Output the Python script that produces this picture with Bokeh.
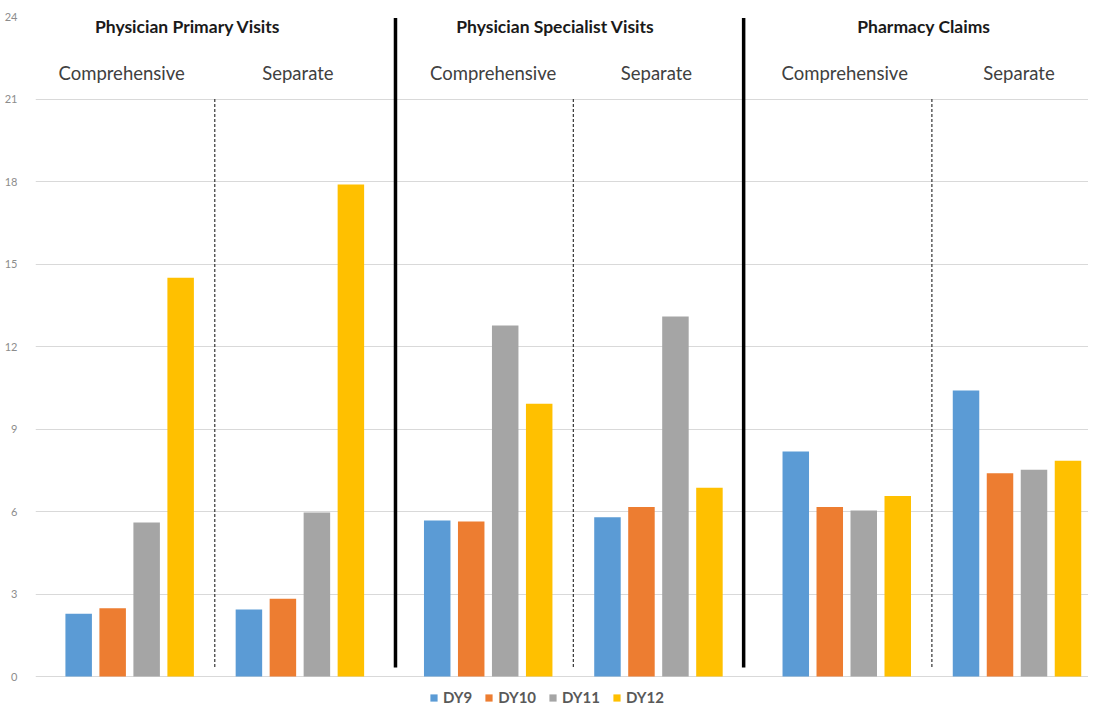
from bokeh.plotting import figure
from bokeh.models import ColumnDataSource, Legend, LegendItem, FixedTicker
from bokeh.core.properties import value
from bokeh.embed import file_html
from bokeh.resources import INLINE

# ---- data ----
sections = ["Physician Primary Visits", "Physician Specialist Visits", "Pharmacy Claims"]
plans = ["Comprehensive", "Separate"]
series = ["DY9", "DY10", "DY11", "DY12"]
# order: Primary-Comp, Primary-Sep, Specialist-Comp, Specialist-Sep, Pharmacy-Comp, Pharmacy-Sep
dy9 = [2.28, 2.44, 5.67, 5.79, 8.18, 10.40]
dy10 = [2.48, 2.83, 5.64, 6.16, 6.16, 7.39]
dy11 = [5.60, 5.96, 12.76, 13.09, 6.04, 7.52]
dy12 = [14.50, 17.89, 9.92, 6.86, 6.56, 7.85]
y_ticks = [0, 3, 6, 9, 12, 15, 18, 21, 24]

values = [dy9, dy10, dy11, dy12]
colors = ["#5B9BD5", "#ED7D31", "#A5A5A5", "#FFC000"]

# ---- layout constants ----
FONT = "Lato"
group_half = 0.2374
bar_pitch = 0.0948
bar_w = 0.0739

group_x = []
for s in range(len(sections)):
    for j in range(len(plans)):
        group_x.append(s + (j - 0.5) * 2 * group_half)

# the frame extends a little below 0 so that the legend fits inside it
p = figure(width=1088, height=707, output_backend="svg", toolbar_location=None,
           x_range=(-0.5, 2.4368), y_range=(-1.127, 24),
           min_border_left=35, min_border_right=0, min_border_top=16, min_border_bottom=0)
p.outline_line_color = None
p.background_fill_color = "white"
p.border_fill_color = "white"
p.xaxis.visible = False
p.xgrid.visible = False
p.ygrid.grid_line_color = "#d9d9d9"
p.ygrid.grid_line_width = 1
p.yaxis.ticker = FixedTicker(ticks=y_ticks)
p.yaxis.axis_line_color = None
p.yaxis.major_tick_line_color = None
p.yaxis.minor_tick_line_color = None
p.yaxis.major_label_standoff = 12
p.yaxis.major_label_text_font = FONT
p.yaxis.major_label_text_font_size = "11px"
p.yaxis.major_label_text_color = "#8c8c8c"

renderers = []
for k, (name, vals, col) in enumerate(zip(series, values, colors)):
    xs = [g + (k - 1.5) * bar_pitch for g in group_x]
    src = ColumnDataSource(dict(x=xs, top=vals))
    r = p.vbar(x="x", top="top", width=bar_w, bottom=0, source=src,
               fill_color=col, line_color=None)
    renderers.append(r)

# dotted separators between Comprehensive / Separate
sec_x = list(range(len(sections)))
p.segment(x0=sec_x, y0=[0.35] * 3, x1=sec_x, y1=[21] * 3,
          line_color="#333333", line_width=1.2, line_dash="3 2")
# thick separators between sections
div_x = [0.504, 1.475]
p.segment(x0=div_x, y0=[0.33] * 2, x1=div_x, y1=[23.95] * 2,
          line_color="black", line_width=3.5)

# section titles
title_off = [-27, -18, -8]
p.text(x=sec_x, y=[23.64] * 3, text=sections, x_offset=title_off,
       text_font=value(FONT), text_font_style="bold", text_font_size="17.5px",
       text_color="#1a1a1a", text_align="center", text_baseline="middle")
# plan subtitles
sub_off = [-8, -2, 5, -2, -2, 2]
p.text(x=group_x, y=[21.96] * 6, text=plans * 3, x_offset=sub_off,
       text_font=value(FONT), text_font_size="18.5px",
       text_color="#404040", text_align="center", text_baseline="middle")

legend = Legend(items=[LegendItem(label=n, renderers=[r]) for n, r in zip(series, renderers)],
                orientation="horizontal", location=(394, 1),
                glyph_width=9, glyph_height=9, label_standoff=5, spacing=12,
                padding=0, margin=0, border_line_color=None,
                background_fill_alpha=0,
                label_text_font=FONT, label_text_font_size="15px",
                label_text_font_style="bold", label_text_color="#595959")
p.add_layout(legend, "center")

open("out.html", "w").write(file_html(p, INLINE))
